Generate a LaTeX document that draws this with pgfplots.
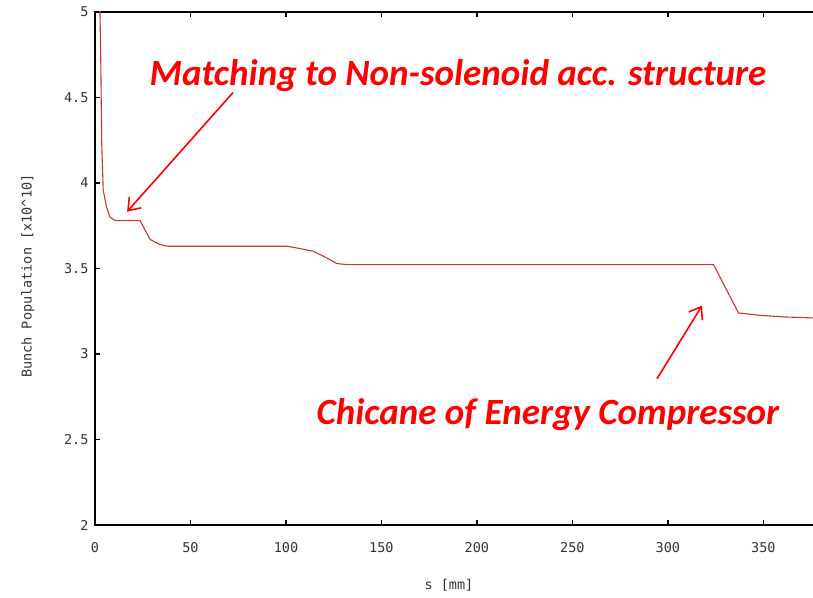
\documentclass[border=0pt]{standalone}
\usepackage{pgfplots}
\pgfplotsset{compat=1.18}
\usepackage{fontspec}
\setmainfont{Carlito}
\newfontfamily\plotfont{DejaVu Sans Mono}
\usetikzlibrary{arrows.meta}
\definecolor{curve}{RGB}{204,51,51}
\definecolor{labelgray}{RGB}{50,50,50}

\begin{document}
\begin{tikzpicture}
% the frame runs a little past s = 376 mm, where the page ends
\begin{axis}[
  scale only axis,
  width=721.8pt, height=513pt,
  xmin=0, xmax=378, ymin=2, ymax=5,
  axis line style={line width=1.6pt},
  xtick={0,50,...,350},
  ytick={2,2.5,...,5},
  tick style={black, line width=1.4pt},
  major tick length=5pt,
  tick align=inside,
  xtick pos=both, ytick pos=left,
  tick label style={font=\plotfont\fontsize{13.5}{15}\selectfont, text=labelgray},
  yticklabel style={/pgf/number format/fixed, /pgf/number format/use period, xshift=-3pt},
  xticklabel style={yshift=-14pt},
  /pgf/number format/assume math mode=true,
  xlabel={s [mm]},
  ylabel={Bunch Population [x10\textasciicircum 10]},
  label style={font=\plotfont\fontsize{13.5}{15}\selectfont, text=labelgray},
  xlabel style={at={(axis description cs:0.4903,0)}, anchor=center, yshift=-60pt},
  ylabel style={at={(axis description cs:-0.093,0.485)}, anchor=center},
  clip=true,
]
\addplot[curve, line width=1.1pt] coordinates {
  (2.4,5.4) (2.6,5.0) (3.0,4.74) (3.5,4.24) (4.3,3.96) (6.0,3.86)
  (7.9,3.80) (10.5,3.78) (23.6,3.78) (26.0,3.73) (28.8,3.67)
  (34.0,3.64) (38.2,3.63) (100.6,3.63) (105.7,3.620) (114.2,3.601)
  (121.4,3.562) (126.6,3.529) (131.8,3.523) (323.9,3.523)
  (337.0,3.240) (348.3,3.226) (360.6,3.217) (378,3.210)
};
\end{axis}
% annotations
\begin{axis}[
  scale only axis, width=721.8pt, height=513pt,
  xmin=0, xmax=378, ymin=2, ymax=5,
  hide axis, clip=false,
]
\node[anchor=base, text=red, font=\fontsize{37}{42}\selectfont\bfseries\itshape]
  at (axis cs:190.1,4.571) {Matching to Non-solenoid acc. structure};
\node[anchor=base, text=red, font=\fontsize{37}{42}\selectfont\bfseries\itshape]
  at (axis cs:237.2,2.586) {Chicane of Energy Compressor};
\draw[red, line width=1.6pt, -{Straight Barb[length=11pt,width=16pt,line width=1.6pt]}]
  (axis cs:72.3,4.529) -- (axis cs:16.8,3.832);
\draw[red, line width=1.6pt, -{Straight Barb[length=11pt,width=16pt,line width=1.6pt]}]
  (axis cs:294.3,2.855) -- (axis cs:317.9,3.283);
\end{axis}
\pgfresetboundingbox
\path[use as bounding box] (-95pt,-72pt) rectangle (718pt,525pt);
\end{tikzpicture}
\end{document}
